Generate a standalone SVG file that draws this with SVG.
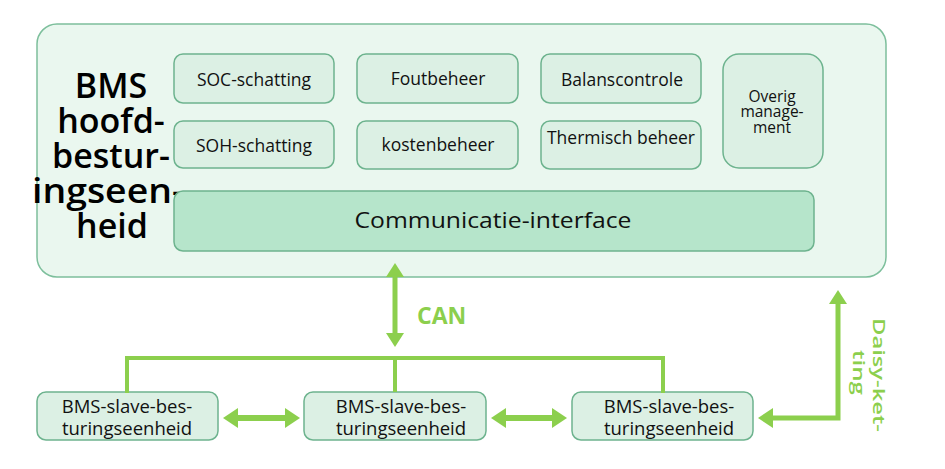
<svg xmlns="http://www.w3.org/2000/svg" width="945" height="469" viewBox="0 0 945 469">
<style>
.outer{fill:#eaf7ef;stroke:#7dbf9c;stroke-width:1.5}
.box{fill:#dcf0e4;stroke:#6db38e;stroke-width:1.5}
.comm{fill:#b6e5cb;stroke:#6db38e;stroke-width:1.5}
.t{font-family:"Open Sans","Noto Sans",sans-serif;font-size:17.5px;font-weight:500;fill:#111;text-anchor:middle}
.s{font-size:18.5px}
.title{font-family:"Open Sans","Noto Sans",sans-serif;font-size:34px;font-weight:600;fill:#000;text-anchor:middle}
.ln{fill:none;stroke:#8ccf4d;stroke-width:5}
.bus{fill:none;stroke:#8ccf4d;stroke-width:4}
.ah{fill:#8ccf4d}
.g{font-family:"Open Sans","Noto Sans",sans-serif;font-weight:700;fill:#8ccf4d}
</style>
<rect width="945" height="469" fill="#ffffff"/>
<g id="master">
<rect class="outer" x="37" y="24" width="849" height="253" rx="20"/>
<text class="title" x="111" y="98">BMS</text>
<text class="title" x="111" y="133">hoofd-</text>
<text class="title" x="111" y="168">bestur-</text>
<text class="title" x="108" y="203" textLength="152" lengthAdjust="spacingAndGlyphs">ingseen-</text>
<text class="title" x="112" y="238">heid</text>
</g>
<g id="soc"><rect class="box" x="174" y="54" width="160" height="49" rx="9"/><text class="t" x="254" y="86">SOC-schatting</text></g>
<g id="soh"><rect class="box" x="174" y="121" width="160" height="47" rx="9"/><text class="t" x="254" y="152">SOH-schatting</text></g>
<g id="fout"><rect class="box" x="357" y="54" width="161" height="49" rx="9"/><text class="t" x="438" y="85">Foutbeheer</text></g>
<g id="kosten"><rect class="box" x="357" y="121" width="161" height="48" rx="9"/><text class="t" x="438" y="151">kostenbeheer</text></g>
<g id="balans"><rect class="box" x="541" y="54" width="160" height="49" rx="9"/><text class="t" x="622" y="86">Balanscontrole</text></g>
<g id="thermisch"><rect class="box" x="541" y="121" width="160" height="48" rx="9"/><text class="t" x="621" y="144">Thermisch beheer</text></g>
<g id="overig"><rect class="box" x="723" y="54" width="100" height="114" rx="16"/>
<text class="t" x="772" y="102" style="font-size:15.5px">Overig</text>
<text class="t" x="772" y="117" style="font-size:15.5px">manage-</text>
<text class="t" x="772" y="133" style="font-size:15.5px">ment</text></g>
<g id="comm"><rect class="comm" x="174" y="191" width="640" height="60" rx="9"/><text class="t" x="493" y="228" style="font-size:22px" textLength="277" lengthAdjust="spacingAndGlyphs">Communicatie-interface</text></g>
<g id="slave1"><rect class="box" x="37" y="392" width="181" height="48" rx="9"/><text class="t s" x="127" y="413">BMS-slave-bes-</text><text class="t s" x="127" y="435">turingseenheid</text></g>
<g id="slave2"><rect class="box" x="304" y="392" width="182" height="48" rx="9"/><text class="t s" x="401" y="413">BMS-slave-bes-</text><text class="t s" x="401" y="435">turingseenheid</text></g>
<g id="slave3"><rect class="box" x="572" y="392" width="181" height="48" rx="9"/><text class="t s" x="669" y="413">BMS-slave-bes-</text><text class="t s" x="669" y="435">turingseenheid</text></g>
<g id="connectors">
<line class="ln" x1="395" y1="275" x2="395" y2="335"/>
<polygon class="ah" points="395,263 386,277 404,277"/>
<polygon class="ah" points="395,347 386,333 404,333"/>
<polyline class="bus" points="127,393 127,358 663,358 663,393"/>
<line class="bus" x1="395" y1="356" x2="395" y2="392"/>
<line class="ln" x1="236" y1="418" x2="287" y2="418" style="stroke-width:6"/>
<polygon class="ah" points="223,418 238,408 238,428"/>
<polygon class="ah" points="300,418 285,408 285,428"/>
<line class="ln" x1="504" y1="418" x2="554" y2="418" style="stroke-width:6"/>
<polygon class="ah" points="491,418 506,408 506,428"/>
<polygon class="ah" points="567,418 552,408 552,428"/>
<polyline class="ln" points="771,418 838,418 838,302"/>
<polygon class="ah" points="758,418 773,408 773,428"/>
<polygon class="ah" points="838,290 829,304 847,304"/>
</g>
<text class="g" x="417" y="324" style="font-size:23px">CAN</text>
<text class="g" transform="translate(873,318) rotate(90)" style="font-size:17px;font-weight:600" textLength="114" lengthAdjust="spacingAndGlyphs">Daisy-ket-</text>
<text class="g" transform="translate(853,350) rotate(90)" style="font-size:17px;font-weight:600" textLength="45" lengthAdjust="spacingAndGlyphs">ting</text>
</svg>
